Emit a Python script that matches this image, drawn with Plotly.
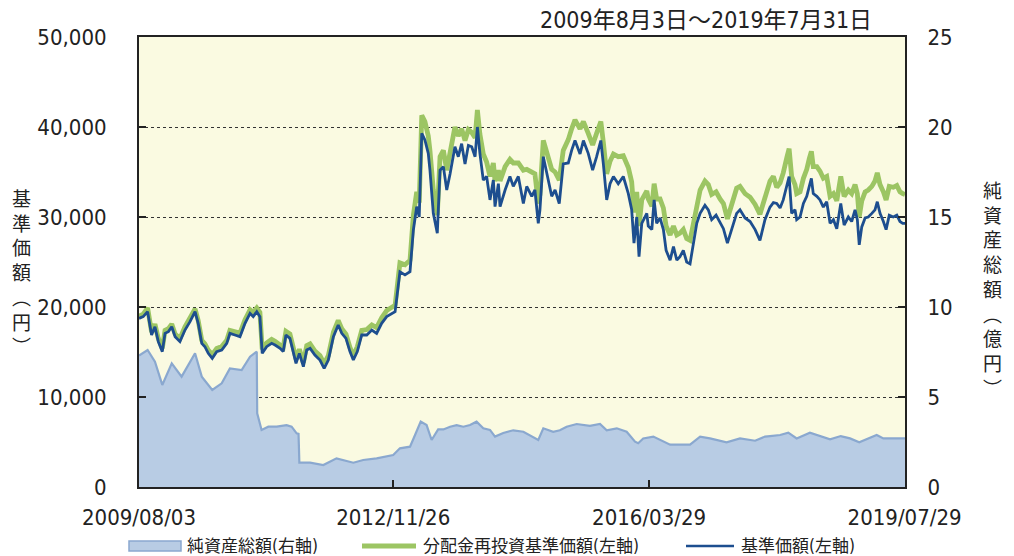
import plotly.graph_objects as go

# ---------------- data ----------------
dates = [
    "2009-08-03", "2009-08-23", "2009-09-13", "2009-09-24", "2009-10-02", "2009-10-18", "2009-11-03", "2009-11-22", "2009-12-05", "2009-12-21",
    "2010-01-06", "2010-01-22", "2010-02-14", "2010-03-10", "2010-04-03", "2010-04-27", "2010-05-12", "2010-05-29", "2010-06-13", "2010-06-29",
    "2010-07-18", "2010-08-08", "2010-09-01", "2010-09-25", "2010-10-10", "2010-11-03", "2010-11-27", "2010-12-21",
    "2011-01-14", "2011-01-29", "2011-02-15", "2011-03-02", "2011-03-13", "2011-04-03", "2011-04-27", "2011-05-13", "2011-06-06", "2011-06-21",
    "2011-07-04", "2011-07-23", "2011-08-08", "2011-08-21", "2011-09-06", "2011-09-25", "2011-10-11", "2011-10-27", "2011-11-19", "2011-12-13",
    "2012-01-02", "2012-01-22", "2012-02-15", "2012-03-09", "2012-03-26", "2012-04-15", "2012-05-04", "2012-05-20", "2012-06-08", "2012-06-29",
    "2012-07-23", "2012-08-16", "2012-09-08", "2012-10-02", "2012-10-26", "2012-11-19", "2012-12-05", "2012-12-28",
    "2013-01-21", "2013-02-14", "2013-03-02", "2013-03-18", "2013-03-30", "2013-04-11", "2013-04-26", "2013-05-12", "2013-05-20", "2013-06-05",
    "2013-06-24", "2013-07-07", "2013-07-23", "2013-08-08", "2013-08-24", "2013-09-16", "2013-10-02", "2013-10-18", "2013-11-03", "2013-11-19",
    "2013-12-05", "2013-12-21",
    "2014-01-01", "2014-01-13", "2014-01-29", "2014-02-14", "2014-03-02", "2014-03-18", "2014-03-26", "2014-04-11", "2014-04-19", "2014-05-13",
    "2014-06-05", "2014-06-21", "2014-07-15", "2014-08-08", "2014-08-24", "2014-09-17", "2014-10-02", "2014-10-18", "2014-10-26", "2014-11-11",
    "2014-11-27", "2014-12-21",
    "2015-01-06", "2015-01-26", "2015-02-14", "2015-03-10", "2015-03-26", "2015-04-11", "2015-05-05", "2015-05-21", "2015-06-13", "2015-07-04",
    "2015-07-23", "2015-08-12", "2015-08-24", "2015-09-09", "2015-09-25", "2015-10-11", "2015-11-03", "2015-11-27", "2015-12-21",
    "2016-01-06", "2016-01-17", "2016-01-30", "2016-02-10", "2016-02-23", "2016-03-18", "2016-03-25", "2016-04-11", "2016-04-22", "2016-05-04",
    "2016-05-20", "2016-06-05", "2016-06-18", "2016-07-07", "2016-07-23", "2016-08-08", "2016-08-23", "2016-09-08", "2016-09-24", "2016-10-10",
    "2016-10-26", "2016-11-11", "2016-11-27", "2016-12-20",
    "2017-01-05", "2017-01-21", "2017-02-11", "2017-03-02", "2017-03-18", "2017-04-06", "2017-04-27", "2017-05-20", "2017-06-05", "2017-06-29",
    "2017-07-23", "2017-08-16", "2017-09-08", "2017-10-02", "2017-10-26", "2017-11-11", "2017-11-27", "2017-12-13", "2017-12-28",
    "2018-01-14", "2018-01-25", "2018-02-06", "2018-02-22", "2018-03-02", "2018-03-18", "2018-04-03", "2018-04-19", "2018-05-01", "2018-05-11",
    "2018-05-20", "2018-06-06", "2018-06-21", "2018-07-07", "2018-07-23", "2018-08-08", "2018-08-24", "2018-09-09", "2018-09-28", "2018-10-14",
    "2018-11-03", "2018-11-19", "2018-12-05", "2018-12-16", "2018-12-25",
    "2019-01-06", "2019-01-22", "2019-02-06", "2019-02-23", "2019-03-10", "2019-03-21", "2019-04-03", "2019-04-19", "2019-05-02", "2019-05-17",
    "2019-06-05", "2019-06-22", "2019-07-07", "2019-07-20", "2019-07-31",
]

# 基準価額 (円)
base_price = [
    18740, 18930, 19480, 18190, 16890, 17810, 16150, 15040, 17070, 17260,
    17810, 16700, 16150, 17440, 18370, 19480, 18190, 15960, 15590, 14850,
    14300, 15040, 15220, 15960, 17070, 16890, 16700, 18190,
    19300, 18930, 19480, 18930, 14850, 15590, 15960, 15780, 15410, 15040,
    16890, 16520, 15040, 13740, 14850, 13370, 15220, 15410, 14670, 14110,
    13190, 14110, 16700, 18000, 17070, 16520, 15040, 14110, 15040, 16890,
    16890, 17440, 17070, 18190, 18930, 19300, 19480, 23900,
    23560, 23930, 28560, 31150, 30000, 39300, 38560, 37070, 35200, 30400,
    28200, 35200, 35600, 33000, 34800, 37800, 36700, 38150, 35900, 37960,
    37800, 36700,
    40000, 37070, 34100, 34500, 31900, 34100, 31150, 33700, 31150, 33000,
    34500, 33400, 34500, 31500, 33400, 32300, 33000, 29300, 30800, 36700,
    34800, 32300,
    33000, 31500, 35900, 36000, 37400, 38500, 37000, 38500, 37070, 35200,
    36700, 38500, 35900, 31900, 33700, 34500, 33700, 34500, 32600,
    30800, 27100, 30000, 25600, 29300, 30400, 29000, 28600, 31900, 29300,
    29900, 28600, 26300, 25200, 26700, 25200, 25600, 26300, 25000, 24800,
    27100, 29300, 30400, 31300,
    30800, 29700, 30200, 29300, 28700, 27100, 28600, 30400, 30800, 29900,
    29500, 28600, 27400, 29700, 31100, 31600, 31500, 31000, 31900,
    33700, 34500, 30400, 30800, 29700, 30000, 31500, 32300, 33400, 34300,
    32600, 32300, 31900, 31100, 31700, 29300, 29700, 28700, 31500, 29100,
    30000, 29500, 30800, 29700, 26900,
    28900, 29900, 30000, 30400, 30800, 31700, 30400, 29500, 28600, 30200,
    30000, 30200, 29500, 29300, 29300,
]

# 分配金再投資基準価額 (円)
reinvested_price = [
    19000, 19200, 19900, 18500, 17200, 18100, 16500, 15400, 17400, 17600,
    18100, 17000, 16500, 17800, 18700, 19800, 18500, 16300, 15900, 15200,
    14700, 15400, 15600, 16300, 17400, 17200, 17100, 18600,
    19700, 19400, 19900, 19400, 15300, 16000, 16400, 16200, 15800, 15500,
    17300, 17000, 15500, 14200, 15300, 13800, 15700, 15900, 15100, 14600,
    13700, 14600, 17200, 18500, 17600, 17000, 15500, 14600, 15600, 17400,
    17500, 18000, 17700, 18800, 19600, 20000, 20200, 24900,
    24700, 25200, 30200, 32800, 31600, 41300, 40600, 39000, 37400, 33000,
    30200, 36700, 37400, 35200, 37000, 40000, 39000, 39800, 38500, 39700,
    39400, 38800,
    41900, 39200, 37000, 36100, 34500, 36000, 34000, 35200, 34000, 35600,
    36400, 36000, 36000, 35200, 35300, 35000, 34800, 31500, 32500, 38500,
    37000, 35300,
    35000, 34100, 37400, 38600, 39800, 40800, 39800, 40600, 39300, 38000,
    39300, 40600, 38300, 34800, 36200, 37000, 36700, 36800, 35500,
    33900, 30500, 32800, 29000, 31900, 32900, 32000, 31200, 33700, 32000,
    32000, 31000, 29000, 28000, 29000, 28000, 28200, 28600, 27600, 27400,
    29300, 31600, 33000, 34000,
    33600, 32500, 32800, 32000, 31500, 29800, 31300, 33200, 33400, 32600,
    32200, 31400, 30300, 32400, 34000, 34500, 33300, 33800, 34900,
    36600, 37600, 34500, 33600, 32600, 32800, 34300, 35300, 36500, 37300,
    35600, 35600, 35100, 34300, 34500, 32300, 32600, 31800, 34500, 32300,
    33000, 32600, 33600, 32600, 30000,
    31800, 32800, 33000, 33400, 34000, 34900, 33600, 32800, 31900, 33400,
    33300, 33500, 32800, 32600, 32500,
]

# 純資産総額 (億円)
na_dates = [
    "2009-08-03", "2009-09-13", "2009-10-18", "2009-11-22", "2010-01-06", "2010-02-22", "2010-04-27", "2010-05-29", "2010-07-18", "2010-09-01",
    "2010-10-10", "2010-12-05", "2011-01-14", "2011-02-15", "2011-02-17", "2011-03-10", "2011-04-11", "2011-05-21", "2011-07-07", "2011-07-31",
    "2011-08-24", "2011-09-02", "2011-09-06", "2011-10-27", "2011-12-29", "2012-03-01", "2012-05-20", "2012-07-06", "2012-09-08", "2012-10-26",
    "2012-11-26", "2012-12-28", "2013-02-14", "2013-03-10", "2013-04-06", "2013-05-04", "2013-05-28", "2013-06-28", "2013-07-23", "2013-08-24",
    "2013-09-24", "2013-10-26", "2013-11-27", "2013-12-28", "2014-01-29", "2014-03-02", "2014-03-26", "2014-05-04", "2014-06-21", "2014-08-08",
    "2014-10-18", "2014-11-11", "2014-12-28", "2015-01-29", "2015-03-02", "2015-04-19", "2015-06-21", "2015-08-08", "2015-09-09", "2015-10-27",
    "2015-12-13", "2016-01-22", "2016-02-06", "2016-03-01", "2016-04-18", "2016-07-07", "2016-10-10", "2016-11-27", "2017-01-13", "2017-04-02",
    "2017-06-05", "2017-08-16", "2017-10-02", "2017-10-26", "2017-12-13", "2018-01-21", "2018-03-02", "2018-05-04", "2018-06-21", "2018-08-08",
    "2018-09-28", "2018-11-11", "2018-12-25", "2019-01-29", "2019-03-18", "2019-04-19", "2019-05-21", "2019-07-31",
]
net_assets = [
    7.30, 7.61, 6.96, 5.67, 6.87, 6.13, 7.43, 6.13, 5.39, 5.76,
    6.59, 6.50, 7.24, 7.52, 4.09, 3.17, 3.35, 3.35, 3.44, 3.35,
    2.98, 2.95, 1.35, 1.35, 1.22, 1.59, 1.35, 1.50, 1.59, 1.72,
    1.78, 2.15, 2.24, 2.89, 3.63, 3.44, 2.61, 3.20, 3.20, 3.35,
    3.44, 3.35, 3.44, 3.63, 3.26, 3.17, 2.80, 3.00, 3.15, 3.07,
    2.61, 3.26, 3.07, 3.15, 3.35, 3.50, 3.40, 3.50, 3.15, 3.26,
    3.07, 2.52, 2.43, 2.70, 2.80, 2.35, 2.35, 2.80, 2.70, 2.48,
    2.70, 2.57, 2.80, 2.83, 2.89, 3.02, 2.70, 3.02, 2.83, 2.65,
    2.83, 2.70, 2.48, 2.65, 2.89, 2.70, 2.70, 2.70,
]

x_tick_vals = ["2009-08-03", "2012-11-26", "2016-03-29", "2019-07-29"]
x_tick_text = ["2009/08/03", "2012/11/26", "2016/03/29", "2019/07/29"]
title_text = "2009年8月3日～2019年7月31日"
legend_labels = ["純資産総額(右軸)", "分配金再投資基準価額(左軸)", "基準価額(左軸)"]

# ---------------- styling ----------------
FONT = "'Liberation Sans Narrow', 'DejaVu Sans Condensed', 'Noto Sans CJK JP', sans-serif"
CJK = "'Noto Sans CJK JP', sans-serif"
TXT = "#222222"
AXIS = "#222222"
C_AREA = "#b8cce4"
C_AREA_LINE = "#8aa8cf"
C_GREEN = "#9cc563"
C_BLUE = "#1d4e8f"

# the page body has an 8px margin; plot area wanted at window pixels 139..905 x 37..487
OFF = 8
L, R, T, B = 139, 905, 37, 487
W, H = 1014 - OFF, 556 - OFF


def px(x):
    return (x - L) / (R - L)


def py(y):
    return (B - y) / (B - T)


fig = go.Figure()
fig.add_trace(go.Scatter(
    x=na_dates, y=net_assets, name=legend_labels[0], mode="lines",
    line=dict(color=C_AREA_LINE, width=2.2), fill="tozeroy", fillcolor=C_AREA,
    yaxis="y", showlegend=False, hoverinfo="skip"))
fig.add_trace(go.Scatter(
    x=dates, y=reinvested_price, name=legend_labels[1], mode="lines",
    line=dict(color=C_GREEN, width=4.8), yaxis="y2", showlegend=False))
fig.add_trace(go.Scatter(
    x=dates, y=base_price, name=legend_labels[2], mode="lines",
    line=dict(color=C_BLUE, width=2.8), yaxis="y2", showlegend=False))

shapes = [
    # legend icons
    dict(type="rect", xref="paper", yref="paper", x0=px(129), x1=px(181), y0=py(551), y1=py(541),
         fillcolor=C_AREA, line=dict(color=C_AREA_LINE, width=1.5)),
    dict(type="line", xref="paper", yref="paper", x0=px(362), x1=px(416), y0=py(546), y1=py(546),
         line=dict(color=C_GREEN, width=5)),
    dict(type="line", xref="paper", yref="paper", x0=px(686), x1=px(734), y0=py(546), y1=py(546),
         line=dict(color=C_BLUE, width=2.5)),
]

annotations = [
    dict(text=title_text, xref="paper", yref="paper", x=px(706), y=py(20), xanchor="center", yanchor="middle",
         showarrow=False, borderpad=0, font=dict(family=FONT, size=23, color=TXT)),
    dict(text="<br>".join(list("基準価額") + ["︵", "円", "︶"]), xref="paper", yref="paper",
         x=px(22), y=py(271), xanchor="center", yanchor="middle", showarrow=False,
         font=dict(family=CJK, size=19, color=TXT)),
    dict(text="<br>".join(list("純資産総額") + ["︵", "億", "円", "︶"]), xref="paper", yref="paper",
         x=px(992), y=py(288), xanchor="center", yanchor="middle", showarrow=False,
         font=dict(family=CJK, size=19, color=TXT)),
    dict(text=legend_labels[0], xref="paper", yref="paper", x=px(185), y=py(546), xanchor="left", yanchor="middle",
         showarrow=False, font=dict(family=FONT, size=17, color=TXT)),
    dict(text=legend_labels[1], xref="paper", yref="paper", x=px(421), y=py(546), xanchor="left", yanchor="middle",
         showarrow=False, font=dict(family=FONT, size=17, color=TXT)),
    dict(text=legend_labels[2], xref="paper", yref="paper", x=px(739), y=py(546), xanchor="left", yanchor="middle",
         showarrow=False, font=dict(family=FONT, size=17, color=TXT)),
]

fig.update_layout(
    width=W, height=H, autosize=False,
    margin=dict(l=L - OFF, r=W - (R - OFF), t=T - OFF, b=H - (B - OFF), pad=0),
    paper_bgcolor="white", plot_bgcolor="#fafae1",
    font=dict(family=FONT, size=22, color=TXT),
    showlegend=False,
    xaxis=dict(
        type="date", range=["2009-08-03", "2019-07-31"],
        tickvals=x_tick_vals, ticktext=x_tick_text,
        ticks="inside", ticklen=7, tickwidth=2, tickcolor=AXIS,
        showline=True, linecolor=AXIS, linewidth=2, mirror=True,
        showgrid=False, zeroline=False, ticklabelstandoff=10,
        tickfont=dict(family=FONT, size=22, color=TXT),
    ),
    yaxis=dict(
        side="right", range=[0, 25], tickvals=[0, 5, 10, 15, 20, 25],
        ticks="inside", ticklen=7, tickwidth=2, tickcolor=AXIS,
        showline=True, linecolor=AXIS, linewidth=2,
        showgrid=True, gridcolor="#333333", gridwidth=1, griddash="dot",
        zeroline=False, ticklabelstandoff=16,
        tickfont=dict(family=FONT, size=22, color=TXT),
    ),
    yaxis2=dict(
        overlaying="y", side="left", range=[0, 50000],
        tickvals=[0, 10000, 20000, 30000, 40000, 50000], tickformat=",d",
        ticks="inside", ticklen=7, tickwidth=2, tickcolor=AXIS,
        showline=True, linecolor=AXIS, linewidth=2,
        showgrid=False, zeroline=False, ticklabelstandoff=26,
        tickfont=dict(family=FONT, size=22, color=TXT),
    ),
    shapes=shapes,
    annotations=annotations,
)

fig.write_html("out.html")
